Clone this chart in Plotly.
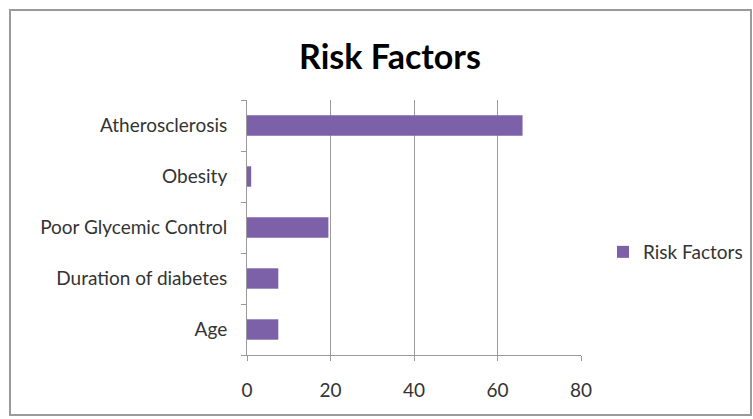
import plotly.graph_objects as go

categories = ["Age", "Duration of diabetes", "Poor Glycemic Control", "Obesity", "Atherosclerosis"]
values = [7.5, 7.5, 19.5, 1, 66]
series_name = "Risk Factors"
x_ticks = [0, 20, 40, 60, 80]

W, H = 753, 419
ML, MR, MT, MB = 247, 172, 100, 64
pw = W - ML - MR
ph = H - MT - MB

FONT = "Lato"
TXT = "#333333"
fig = go.Figure()
fig.add_trace(go.Bar(
    y=categories, x=values, orientation="h", name=series_name,
    marker=dict(color="#7C61A8", line=dict(width=0)),
    showlegend=True,
))

def px_x(p):
    return (p - ML) / pw

def px_y(p):
    return (H - MB - p) / ph

fig.update_layout(
    width=W, height=H,
    margin=dict(l=ML, r=MR, t=MT, b=MB, autoexpand=False),
    paper_bgcolor="white", plot_bgcolor="white",
    bargap=0.6,
    title=dict(text="<b>Risk Factors</b>", x=px_x(390), xref="paper", xanchor="center",
               y=(H - 57) / H, yref="container", yanchor="middle",
               font=dict(family=FONT, size=34, color="#000000")),
    font=dict(family=FONT, size=19, color=TXT),
    legend=dict(x=px_x(603), y=px_y(252), xref="paper", yref="paper",
                xanchor="left", yanchor="middle",
                font=dict(family=FONT, size=19, color=TXT),
                itemwidth=30, bgcolor="rgba(0,0,0,0)"),
    xaxis=dict(range=[0, 80], tickvals=x_ticks, showgrid=True, gridcolor="#9a9a9a", gridwidth=1,
               showline=True, linecolor="#9a9a9a", linewidth=1,
               ticks="outside", ticklen=5, tickcolor="#9a9a9a",
               ticklabelstandoff=13, zeroline=False, fixedrange=True,
               tickfont=dict(size=19, color=TXT)),
    yaxis=dict(showline=True, linecolor="#9a9a9a", linewidth=1, showgrid=False,
               ticks="outside", ticklen=5, tickcolor="#9a9a9a", tickson="boundaries",
               ticklabelstandoff=15, fixedrange=True,
               tickfont=dict(size=19, color=TXT)),
    shapes=[dict(type="rect", xref="paper", yref="paper",
                 x0=px_x(10), x1=px_x(751), y0=px_y(10), y1=px_y(415),
                 line=dict(color="#9a9a9a", width=2), fillcolor="rgba(0,0,0,0)", layer="below")],
)

fig.write_html("out.html")
